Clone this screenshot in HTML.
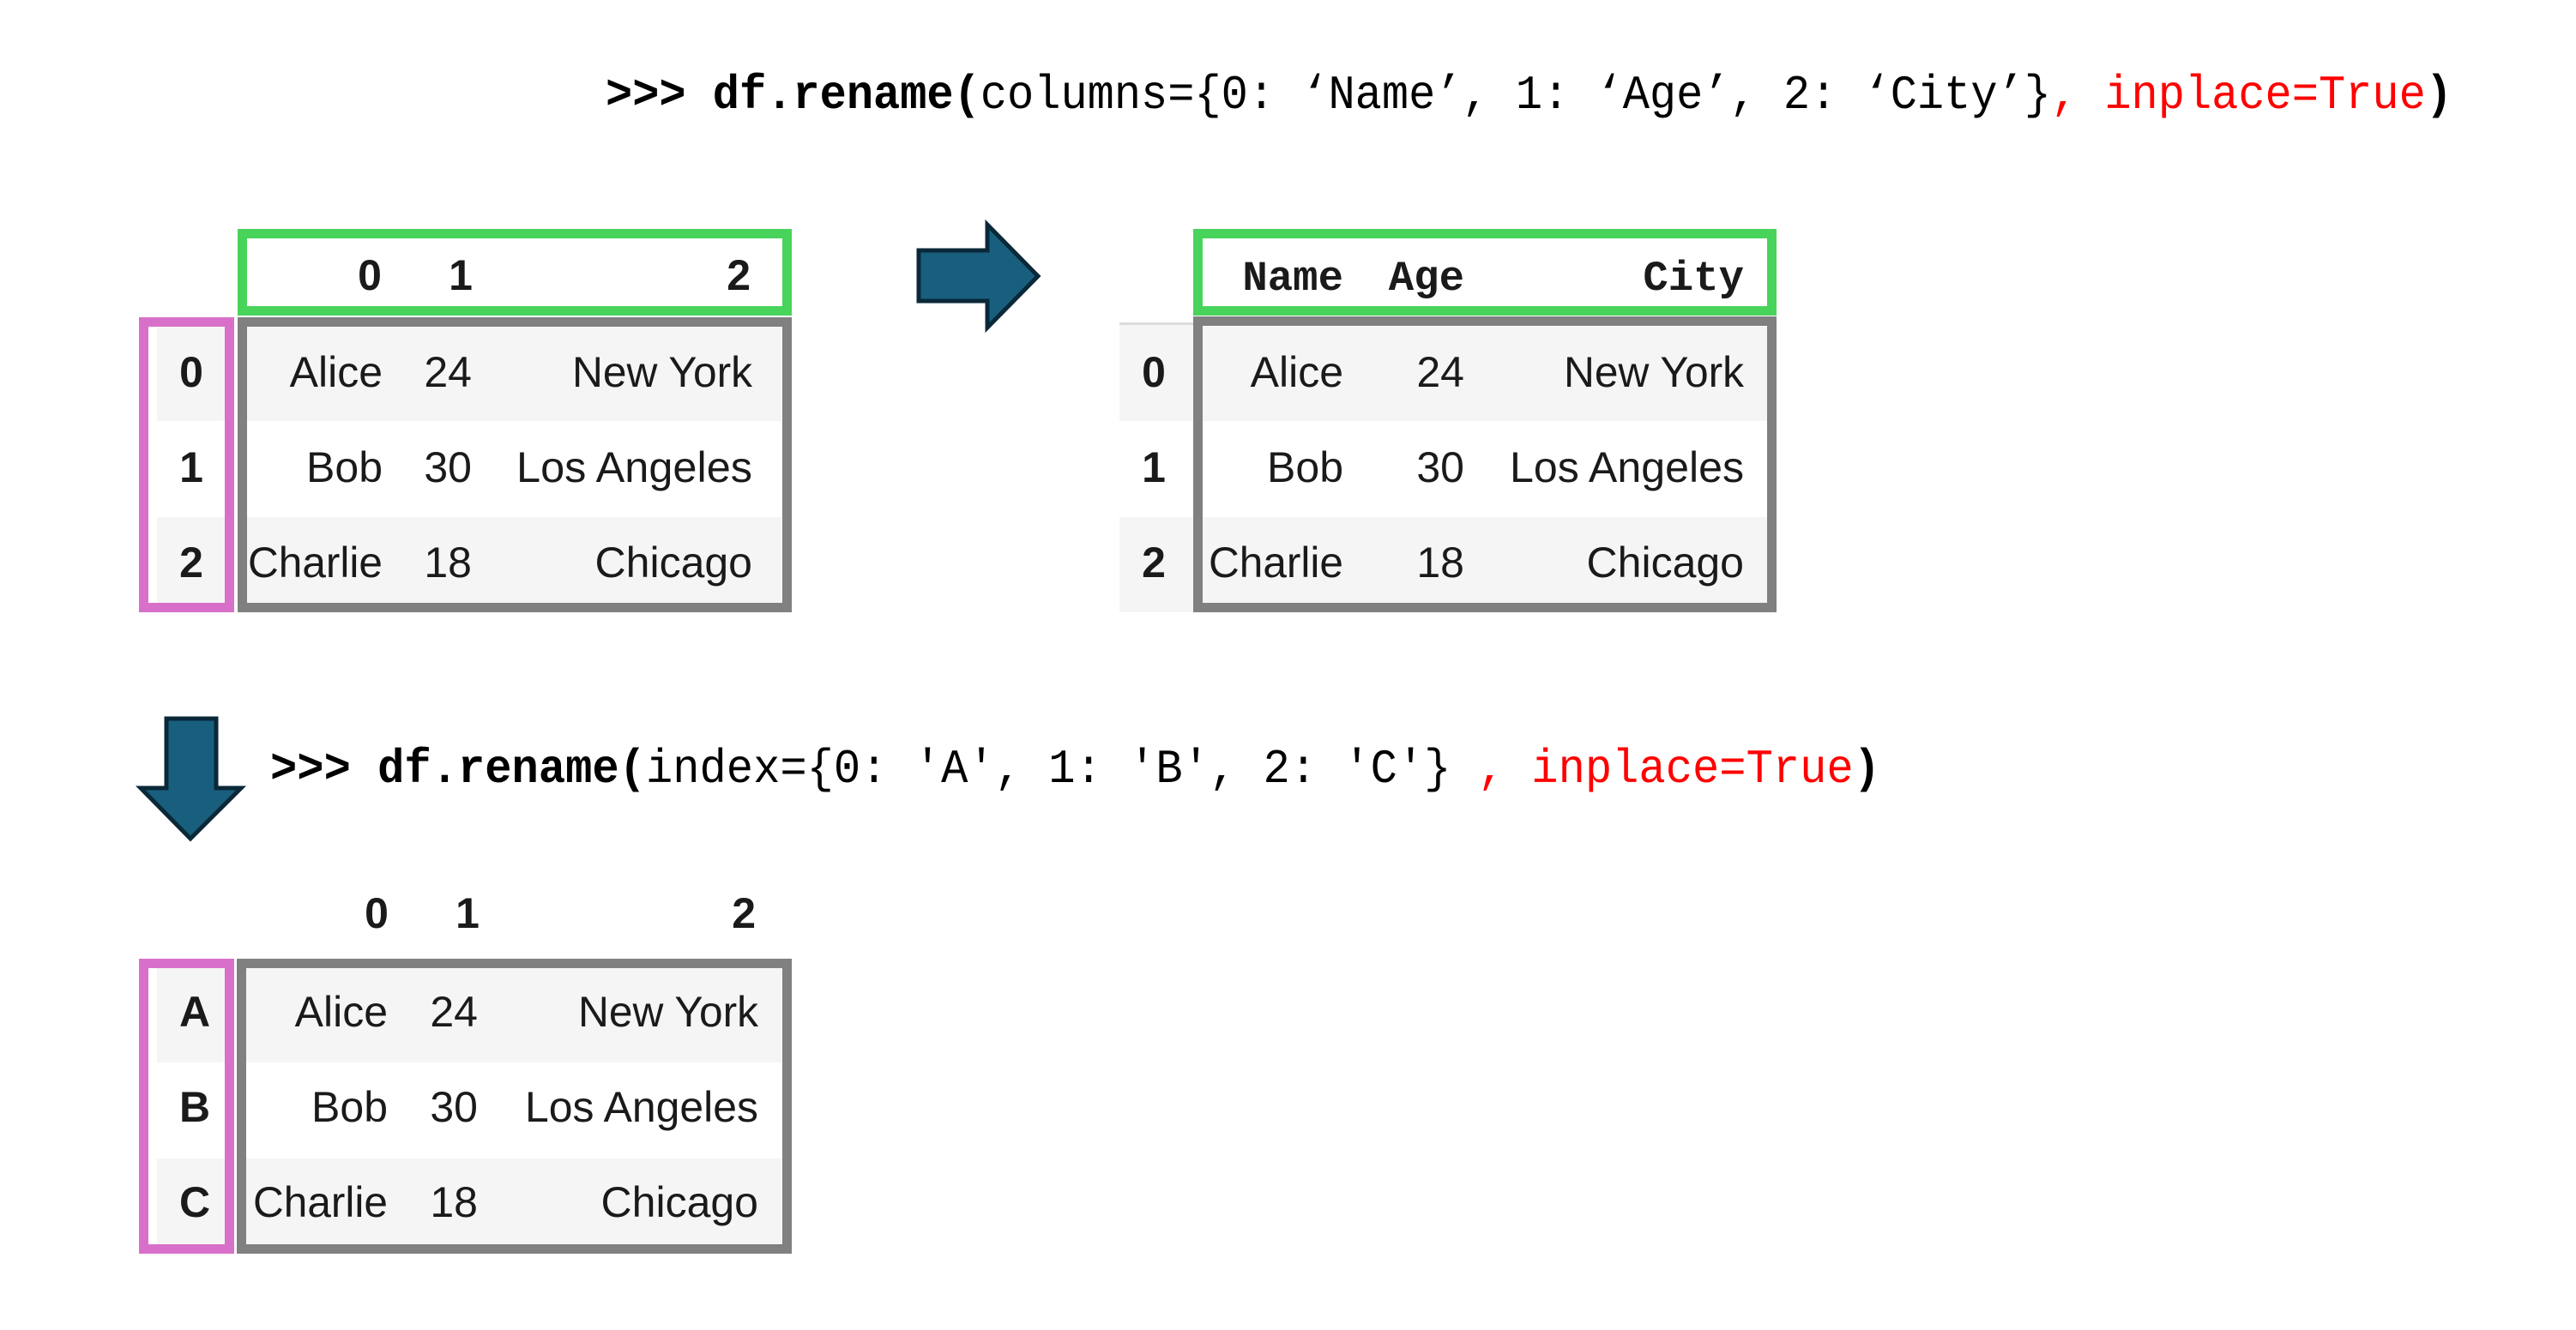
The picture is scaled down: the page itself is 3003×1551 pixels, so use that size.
<!DOCTYPE html>
<html><head><meta charset="utf-8"><style>
html,body{margin:0;padding:0;background:#fff;}
svg{display:block}
.s{font-family:"Liberation Sans",Arial,sans-serif;font-size:50px;fill:#1a1a1a}
.b{font-weight:bold}
.m{font-family:"Liberation Mono",monospace;font-size:56px}
.h{font-family:"Liberation Mono",monospace;font-size:49px;font-weight:bold;fill:#1a1a1a}
</style></head><body>
<svg width="3003" height="1551" viewBox="0 0 3003 1551" xmlns="http://www.w3.org/2000/svg">
<rect width="3003" height="1551" fill="#fff"/>
<!-- code line 1 -->
<text class="m" x="706" y="126" textLength="2153" lengthAdjust="spacingAndGlyphs"><tspan font-weight="bold">&gt;&gt;&gt; df.rename(</tspan>columns={0: ‘Name’, 1: ‘Age’, 2: ‘City’}<tspan fill="#f00">, inplace=True</tspan><tspan font-weight="bold">)</tspan></text>

<!-- TOP LEFT TABLE -->
<rect x="183" y="381" width="90" height="110" fill="#f5f5f5"/>
<rect x="183" y="603" width="90" height="111" fill="#f5f5f5"/>
<rect x="288" y="381" width="624" height="110" fill="#f5f5f5"/>
<rect x="288" y="603" width="624" height="100" fill="#f5f5f5"/>
<rect x="282.5" y="272.5" width="635" height="90" fill="none" stroke="#48d35b" stroke-width="11"/>
<rect x="282.5" y="375.5" width="635" height="333" fill="none" stroke="#808080" stroke-width="11"/>
<rect x="167.5" y="375.5" width="100" height="333" fill="none" stroke="#d870c9" stroke-width="11"/>
<g class="s b" font-size="44">
<text x="431" y="338" text-anchor="middle">0</text>
<text x="537" y="338" text-anchor="middle">1</text>
<text x="875" y="338" text-anchor="end">2</text>
</g>
<g class="s b" font-size="48">
<text x="223" y="451" text-anchor="middle">0</text>
<text x="223" y="562" text-anchor="middle">1</text>
<text x="223" y="673" text-anchor="middle">2</text>
</g>
<g class="s" text-anchor="end">
<text x="446" y="451">Alice</text><text x="550" y="451">24</text><text x="877" y="451" textLength="210" lengthAdjust="spacingAndGlyphs">New York</text>
<text x="446" y="562">Bob</text><text x="550" y="562">30</text><text x="877" y="562" textLength="275" lengthAdjust="spacingAndGlyphs">Los Angeles</text>
<text x="446" y="673" textLength="157" lengthAdjust="spacingAndGlyphs">Charlie</text><text x="550" y="673">18</text><text x="877" y="673">Chicago</text>
</g>

<!-- right arrow -->
<polygon points="1071,292 1151,292 1151,262 1210,322 1151,382 1151,351 1071,351" fill="#185f7e" stroke="#0a2838" stroke-width="5" stroke-linejoin="miter"/>

<!-- TOP RIGHT TABLE -->
<rect x="1305" y="376" width="86" height="3" fill="#dcdcdc"/>
<rect x="1305" y="379" width="86" height="112" fill="#f5f5f5"/>
<rect x="1305" y="603" width="86" height="111" fill="#f5f5f5"/>
<rect x="1402" y="381" width="658" height="110" fill="#f5f5f5"/>
<rect x="1402" y="603" width="658" height="100" fill="#f5f5f5"/>
<rect x="1396.5" y="272.5" width="669" height="90" fill="none" stroke="#48d35b" stroke-width="11"/>
<rect x="1396.5" y="374.5" width="669" height="334" fill="none" stroke="#808080" stroke-width="11"/>
<g class="h" text-anchor="end">
<text x="1566" y="338">Name</text><text x="1707" y="338">Age</text><text x="2033" y="338">City</text>
</g>
<g class="s b" font-size="48">
<text x="1345" y="451" text-anchor="middle">0</text>
<text x="1345" y="562" text-anchor="middle">1</text>
<text x="1345" y="673" text-anchor="middle">2</text>
</g>
<g class="s" text-anchor="end">
<text x="1566" y="451">Alice</text><text x="1707" y="451">24</text><text x="2033" y="451" textLength="210" lengthAdjust="spacingAndGlyphs">New York</text>
<text x="1566" y="562">Bob</text><text x="1707" y="562">30</text><text x="2033" y="562" textLength="273" lengthAdjust="spacingAndGlyphs">Los Angeles</text>
<text x="1566" y="673" textLength="157" lengthAdjust="spacingAndGlyphs">Charlie</text><text x="1707" y="673">18</text><text x="2033" y="673">Chicago</text>
</g>

<!-- down arrow -->
<polygon points="194,838 252,838 252,919 281,919 222,978 164,919 194,919" fill="#185f7e" stroke="#0a2838" stroke-width="5"/>
<!-- code line 2 -->
<text class="m" x="315" y="912" textLength="1877" lengthAdjust="spacingAndGlyphs"><tspan font-weight="bold">&gt;&gt;&gt; df.rename(</tspan>index={0: 'A', 1: 'B', 2: 'C'} <tspan fill="#f00">, inplace=True</tspan><tspan font-weight="bold">)</tspan></text>

<!-- BOTTOM TABLE -->
<rect x="183" y="1129" width="90" height="110" fill="#f5f5f5"/>
<rect x="183" y="1351" width="90" height="111" fill="#f5f5f5"/>
<rect x="287" y="1129" width="625" height="110" fill="#f5f5f5"/>
<rect x="287" y="1351" width="625" height="100" fill="#f5f5f5"/>
<rect x="281.5" y="1123.5" width="636" height="333" fill="none" stroke="#808080" stroke-width="11"/>
<rect x="167.5" y="1123.5" width="100" height="333" fill="none" stroke="#d870c9" stroke-width="11"/>
<g class="s b" font-size="44">
<text x="439" y="1082" text-anchor="middle">0</text>
<text x="545" y="1082" text-anchor="middle">1</text>
<text x="881" y="1082" text-anchor="end">2</text>
</g>
<g class="s b" font-size="48">
<text x="227" y="1197" text-anchor="middle">A</text>
<text x="227" y="1308" text-anchor="middle">B</text>
<text x="227" y="1419" text-anchor="middle">C</text>
</g>
<g class="s" text-anchor="end">
<text x="452" y="1197">Alice</text><text x="557" y="1197">24</text><text x="884" y="1197" textLength="210" lengthAdjust="spacingAndGlyphs">New York</text>
<text x="452" y="1308">Bob</text><text x="557" y="1308">30</text><text x="884" y="1308" textLength="272" lengthAdjust="spacingAndGlyphs">Los Angeles</text>
<text x="452" y="1419" textLength="157" lengthAdjust="spacingAndGlyphs">Charlie</text><text x="557" y="1419">18</text><text x="884" y="1419">Chicago</text>
</g>
</svg>
</body></html>
